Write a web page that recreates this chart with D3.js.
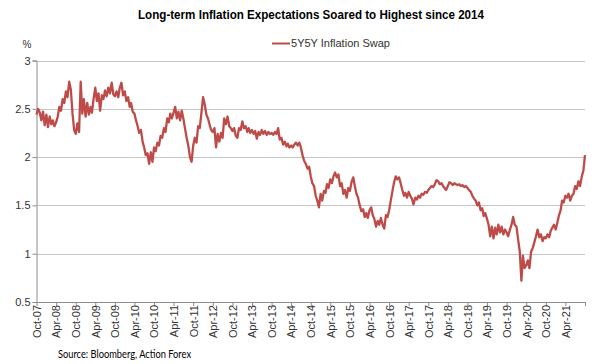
<!DOCTYPE html>
<html><head><meta charset="utf-8">
<script src="https://cdn.jsdelivr.net/npm/d3@7"></script>
<style>body{margin:0;background:#fff} svg{display:block}</style>
</head><body><svg id="c" width="600" height="364"></svg>
<script>
const chartTitle = "Long-term Inflation Expectations Soared to Highest since 2014";
const seriesName = "5Y5Y Inflation Swap";
const sourceText = "Source: Bloomberg, Action Forex";
const yUnit = "%";
const startDate = "2007-10-01";
const endDate = "2021-10-01";
const yTicks = [0.5, 1, 1.5, 2, 2.5, 3];
const xTickLabels = ["Oct-07","Apr-08","Oct-08","Apr-09","Oct-09","Apr-10","Oct-10","Apr-11","Oct-11","Apr-12",
  "Oct-12","Apr-13","Oct-13","Apr-14","Oct-14","Apr-15","Oct-15","Apr-16","Oct-16","Apr-17","Oct-17","Apr-18",
  "Oct-18","Apr-19","Oct-19","Apr-20","Oct-20","Apr-21"];
// semi-monthly readings (1st and 16th of each month) from Oct 2007
const swapValues = [
  2.44,2.50,2.46,2.38,2.47,2.33,2.44,2.31,2.42,2.34,2.38,2.32,
  2.36,2.42,2.52,2.48,2.60,2.56,2.68,2.62,2.78,2.70,2.45,2.28,
  2.24,2.35,2.26,2.78,2.45,2.60,2.42,2.56,2.44,2.52,2.46,2.60,
  2.72,2.58,2.66,2.48,2.64,2.60,2.69,2.63,2.72,2.66,2.77,2.65,
  2.63,2.68,2.62,2.72,2.77,2.64,2.68,2.58,2.62,2.52,2.56,2.47,
  2.45,2.38,2.32,2.25,2.28,2.16,2.10,2.02,2.04,1.93,2.05,1.95,
  2.10,2.06,2.15,2.12,2.22,2.20,2.30,2.26,2.40,2.36,2.45,2.40,
  2.46,2.52,2.40,2.47,2.38,2.48,2.40,2.30,2.20,2.12,2.00,1.95,
  2.12,2.20,2.15,2.32,2.30,2.45,2.62,2.55,2.44,2.40,2.34,2.28,
  2.26,2.30,2.10,2.24,2.16,2.25,2.20,2.40,2.34,2.42,2.32,2.30,
  2.27,2.30,2.22,2.20,2.30,2.28,2.37,2.30,2.32,2.26,2.30,2.25,
  2.28,2.24,2.27,2.19,2.26,2.23,2.28,2.24,2.27,2.23,2.26,2.24,
  2.25,2.23,2.26,2.24,2.30,2.18,2.20,2.13,2.16,2.11,2.14,2.10,
  2.12,2.10,2.13,2.15,2.12,2.15,2.10,2.02,1.96,1.93,1.88,1.90,
  1.80,1.73,1.70,1.60,1.55,1.48,1.62,1.55,1.65,1.63,1.72,1.68,
  1.77,1.73,1.80,1.84,1.79,1.82,1.70,1.73,1.62,1.66,1.58,1.68,
  1.65,1.74,1.79,1.70,1.62,1.58,1.50,1.44,1.46,1.38,1.42,1.37,
  1.45,1.48,1.40,1.36,1.28,1.34,1.30,1.37,1.30,1.26,1.40,1.38,
  1.45,1.55,1.65,1.74,1.80,1.77,1.79,1.73,1.66,1.60,1.63,1.58,
  1.64,1.60,1.57,1.51,1.58,1.56,1.60,1.58,1.62,1.61,1.64,1.63,
  1.66,1.68,1.70,1.69,1.72,1.76,1.75,1.72,1.73,1.70,1.68,1.66,
  1.70,1.74,1.73,1.71,1.73,1.72,1.71,1.72,1.70,1.71,1.69,1.70,
  1.68,1.66,1.64,1.60,1.57,1.55,1.50,1.53,1.45,1.47,1.39,1.42,
  1.36,1.30,1.18,1.28,1.16,1.27,1.20,1.30,1.22,1.28,1.20,1.25,
  1.22,1.18,1.25,1.30,1.38,1.30,1.28,1.15,1.02,0.72,0.98,0.85,
  0.88,0.93,0.85,1.02,1.06,1.12,1.18,1.25,1.17,1.20,1.13,1.17,
  1.16,1.20,1.17,1.24,1.27,1.30,1.25,1.32,1.40,1.45,1.55,1.53,
  1.60,1.58,1.62,1.55,1.60,1.62,1.70,1.67,1.75,1.70,1.80,1.86,
  2.02
];

const parseISO = d3.timeParse("%Y-%m-%d");
const parseTick = d3.timeParse("%b-%y");
const t0 = parseISO(startDate);
const data = swapValues.map((v, i) => {
  const m = d3.timeMonth.offset(t0, Math.floor(i / 2));
  return { date: i % 2 ? d3.timeDay.offset(m, 15) : m, value: v };
});

const L = 36.5, R = 585, T = 60.5, B = 302;
const svg = d3.select("#c");
svg.append("rect").attr("width", 600).attr("height", 364).attr("fill", "#fff");

const x = d3.scaleTime().domain([t0, parseISO(endDate)]).range([L, R]);
const y = d3.scaleLinear().domain([0.5, 3]).range([B, T]);
const font = "'Liberation Sans', Arial, sans-serif";

// gridlines
svg.append("g").selectAll("line").data(yTicks.filter(d => d > 0.5)).join("line")
  .attr("x1", L).attr("x2", R)
  .attr("y1", d => Math.round(y(d)) + 0.5).attr("y2", d => Math.round(y(d)) + 0.5)
  .attr("stroke", "#c6c6c6").attr("stroke-width", 1.2);

// y axis
const yAxis = d3.axisLeft(y).tickValues(yTicks).tickSize(4).tickFormat(d3.format("~g"));
const gy = svg.append("g").attr("transform", `translate(${L},0)`).call(yAxis);
gy.select(".domain").attr("stroke", "#8c8c8c");
gy.selectAll(".tick line").attr("stroke", "#8c8c8c");
gy.selectAll(".tick text").attr("x", -6).attr("font-family", font).attr("font-size", 11).attr("fill", "#333");

// x axis
const xTickDates = xTickLabels.map(parseTick).concat([parseISO(endDate)]);
const xAxis = d3.axisBottom(x).tickValues(xTickDates).tickSize(4).tickSizeOuter(0)
  .tickFormat(d => xTickLabels.includes(d3.timeFormat("%b-%y")(d)) ? d3.timeFormat("%b-%y")(d) : "");
const gx = svg.append("g").attr("transform", `translate(0,${B})`).call(xAxis);
gx.select(".domain").attr("stroke", "#8c8c8c");
gx.selectAll(".tick line").attr("stroke", "#8c8c8c");
gx.selectAll(".tick text")
  .attr("font-family", font).attr("font-size", 11).attr("fill", "#333")
  .attr("text-anchor", "end").attr("transform", "rotate(-90)")
  .attr("x", -3).attr("y", 0).attr("dy", "0.35em");

// line
const line = d3.line().x(d => x(d.date)).y(d => y(d.value));
svg.append("path").datum(data).attr("d", line)
  .attr("fill", "none").attr("stroke", "#be4b48").attr("stroke-width", 2.3)
  .attr("stroke-linejoin", "round");

// title
svg.append("text").attr("x", 311).attr("y", 19).attr("text-anchor", "middle")
  .attr("font-family", font).attr("font-weight", "bold").attr("font-size", 12.5).attr("fill", "#000")
  .attr("textLength", 346).attr("lengthAdjust", "spacingAndGlyphs").text(chartTitle);

// unit
svg.append("text").attr("x", 27).attr("y", 48).attr("text-anchor", "middle")
  .attr("font-family", font).attr("font-size", 10).attr("fill", "#333").text(yUnit);

// legend
svg.append("line").attr("x1", 272).attr("x2", 290).attr("y1", 43.5).attr("y2", 43.5)
  .attr("stroke", "#be4b48").attr("stroke-width", 2);
svg.append("text").attr("x", 291).attr("y", 47).attr("font-family", font).attr("font-size", 11)
  .attr("fill", "#333").attr("textLength", 99).attr("lengthAdjust", "spacingAndGlyphs").text(seriesName);

// source
svg.append("text").attr("x", 58).attr("y", 358).attr("font-family", "Lato, 'Open Sans', sans-serif")
  .attr("font-size", 10.5).attr("fill", "#000").attr("textLength", 133).attr("lengthAdjust", "spacingAndGlyphs")
  .text(sourceText);
</script></body></html>
